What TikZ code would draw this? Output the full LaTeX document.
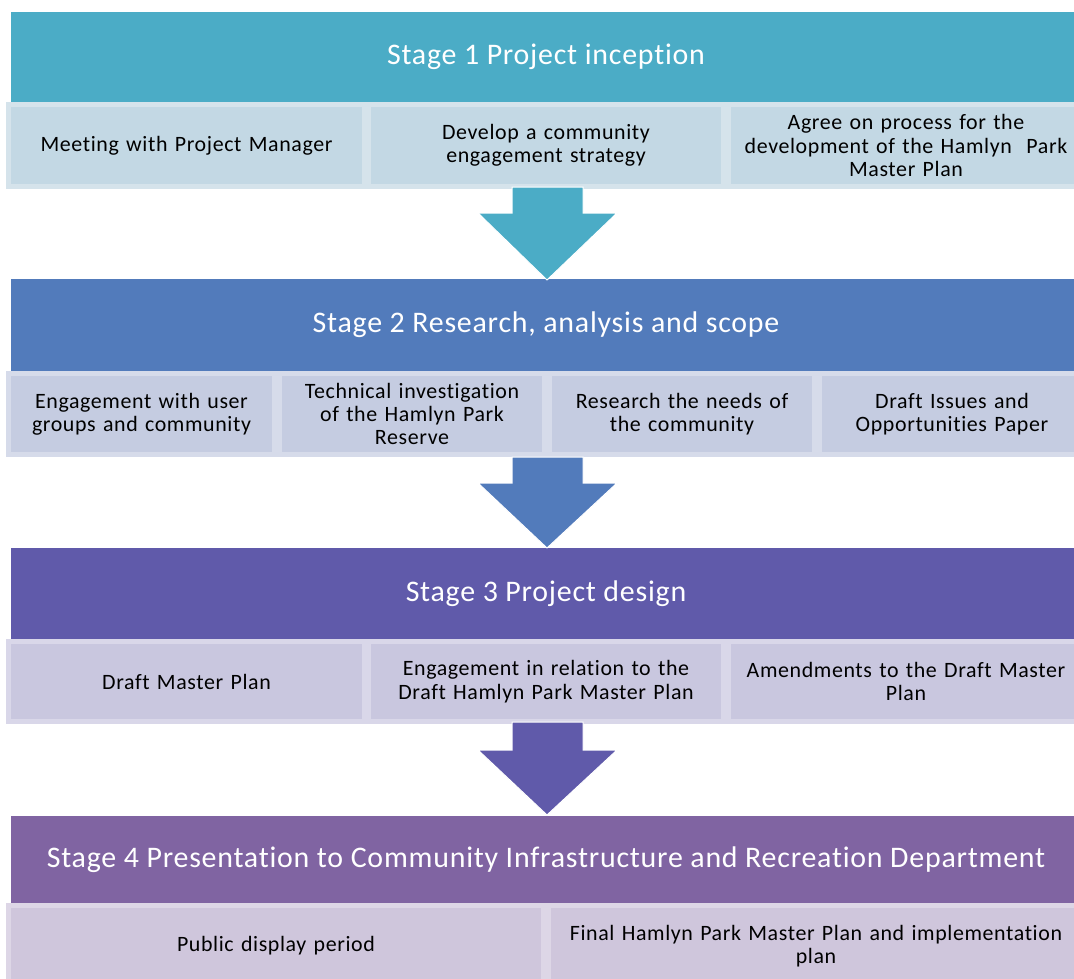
\documentclass[tikz,border=0pt]{standalone}
\usepackage{fontspec}
\setmainfont{Carlito}
\newfontfamily\headfont[LetterSpace=2.6,RawFeature=-liga]{Carlito}
\newfontfamily\subfont[LetterSpace=2.8,RawFeature=-liga]{Carlito}
\definecolor{hA}{HTML}{4BACC6}
\definecolor{sA}{HTML}{C3D8E4}
\definecolor{bA}{HTML}{D5E3EB}
\definecolor{hB}{HTML}{527BBB}
\definecolor{sB}{HTML}{C5CCE1}
\definecolor{bB}{HTML}{D6DBEA}
\definecolor{hC}{HTML}{605AAA}
\definecolor{sC}{HTML}{C9C7DF}
\definecolor{bC}{HTML}{D9D7E9}
\definecolor{hD}{HTML}{8064A2}
\definecolor{sD}{HTML}{CFC6DC}
\definecolor{bD}{HTML}{DDD6E6}
\tikzset{
  header/.style={draw=none, minimum width=1070bp, inner sep=0pt, text=white,
    font=\headfont\fontsize{30}{32}\selectfont},
  subbox/.style={line width=5bp, inner sep=0pt, align=center,
    font=\subfont\fontsize{22}{23.5}\selectfont, text=black},
  downarrow/.style={draw=white, line width=1bp, line join=miter},
}
\begin{document}
\begin{tikzpicture}[x=1bp,y=-1bp]
\useasboundingbox (0,0) rectangle (1074,979);
\clip (0,0) rectangle (1074,979);
\fill[white] (0,0) rectangle (1074,979);
% ---------- Stage 1 ----------
\node[header, fill=hA, minimum height=90bp] (h1) at (546,57) {Stage 1 Project inception};
\node[subbox, fill=sA, draw=bA, minimum width=356bp, minimum height=82bp, text width=345bp] (s11) at (186.5,145.5) {Meeting with Project Manager};
\node[subbox, fill=sA, draw=bA, minimum width=355bp, minimum height=82bp, text width=345bp] (s12) at (546,145.5) {Develop a community\\engagement strategy};
\node[subbox, fill=sA, draw=bA, minimum width=355bp, minimum height=82bp, text width=350bp] (s13) at (906,145.5) {Agree on process for the\\development of the Hamlyn~ Park\\Master Plan};
% ---------- Stage 2 ----------
\node[header, fill=hB, minimum height=92bp] (h2) at (546,325) {Stage 2 Research, analysis and scope};
\node[subbox, fill=sB, draw=bB, minimum width=266bp, minimum height=81bp, text width=262bp] (s21) at (141.5,414) {Engagement with user\\groups and community};
\node[subbox, fill=sB, draw=bB, minimum width=265bp, minimum height=81bp, text width=262bp] (s22) at (412,414) {Technical investigation\\of the Hamlyn Park\\Reserve};
\node[subbox, fill=sB, draw=bB, minimum width=265bp, minimum height=81bp, text width=262bp] (s23) at (682,414) {Research the needs of\\the community};
\node[subbox, fill=sB, draw=bB, minimum width=265bp, minimum height=81bp, text width=262bp] (s24) at (952,414) {Draft Issues and\\Opportunities Paper};
% ---------- Stage 3 ----------
\node[header, fill=hC, minimum height=91bp] (h3) at (546,593.5) {Stage 3 Project design};
\node[subbox, fill=sC, draw=bC, minimum width=356bp, minimum height=80bp, text width=345bp] (s31) at (186.5,681.5) {Draft Master Plan};
\node[subbox, fill=sC, draw=bC, minimum width=355bp, minimum height=80bp, text width=350bp] (s32) at (546,681.5) {Engagement in relation to the\\Draft Hamlyn Park Master Plan};
\node[subbox, fill=sC, draw=bC, minimum width=355bp, minimum height=80bp, text width=350bp] (s33) at (906,681.5) {Amendments to the Draft Master\\Plan};
% ---------- Stage 4 ----------
\node[header, fill=hD, minimum height=87bp] (h4) at (546,859.5) {Stage 4 Presentation to Community Infrastructure and Recreation Department};
\node[subbox, fill=sD, draw=bD, minimum width=535bp, minimum height=82bp, text width=525bp] (s41) at (276,946) {Public display period};
\node[subbox, fill=sD, draw=bD, minimum width=535bp, minimum height=82bp, text width=530bp] (s42) at (816,946) {Final Hamlyn Park Master Plan and implementation\\plan};
% ---------- Arrows ----------
\fill[hA, downarrow] (512,187) -- (583,187) -- (583,213) -- (617,213) -- (547,280) -- (478,213) -- (512,213) -- cycle;
\fill[hB, downarrow] (512,457) -- (583,457) -- (583,483) -- (617,483) -- (547,548) -- (478,483) -- (512,483) -- cycle;
\fill[hC, downarrow] (512,722) -- (583,722) -- (583,750) -- (617,750) -- (547,815) -- (478,750) -- (512,750) -- cycle;
\coordinate (a1) at (547,280);
\coordinate (a2) at (547,548);
\coordinate (a3) at (547,815);
\end{tikzpicture}
\end{document}
